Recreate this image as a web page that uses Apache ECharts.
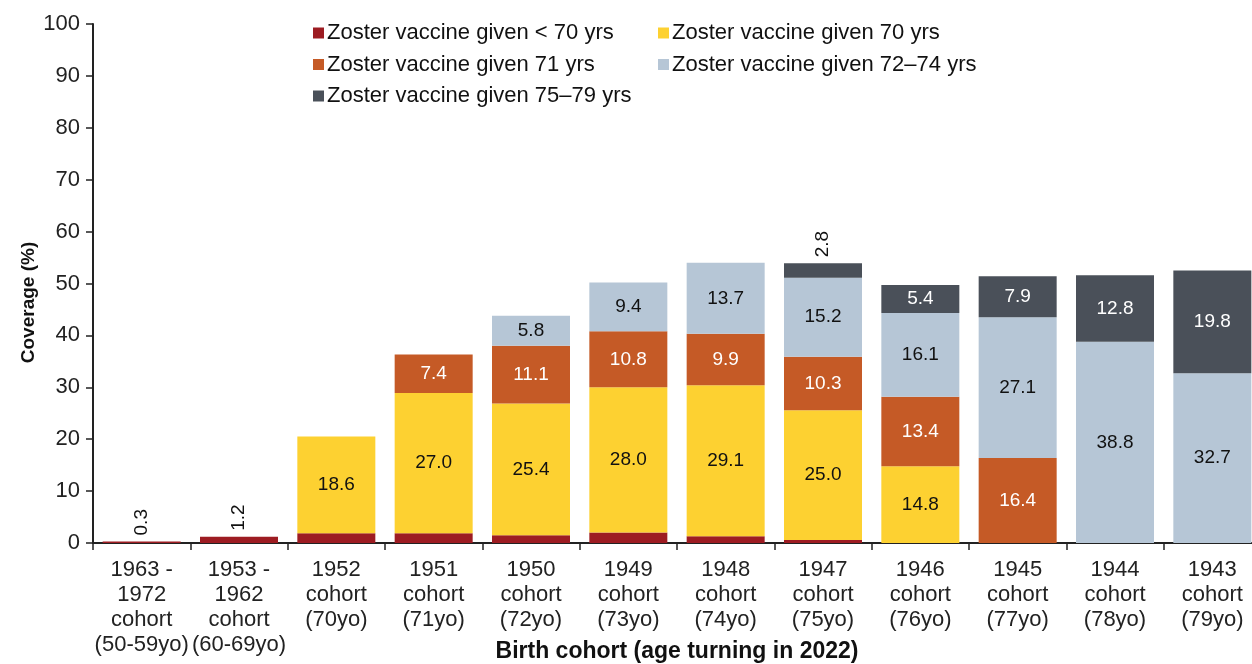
<!DOCTYPE html>
<html>
<head>
<meta charset="utf-8">
<script src="https://cdn.jsdelivr.net/npm/echarts@6/dist/echarts.min.js"></script>
<style>
  html, body { margin: 0; padding: 0; background: #fff; }
  #chart { width: 1252px; height: 664px; }
</style>
</head>
<body>
<div id="chart"></div>
<script>
// 出生队列
const cohorts = [
  '1963 -\n1972\ncohort\n(50-59yo)', '1953 -\n1962\ncohort\n(60-69yo)',
  '1952\ncohort\n(70yo)', '1951\ncohort\n(71yo)', '1950\ncohort\n(72yo)',
  '1949\ncohort\n(73yo)', '1948\ncohort\n(74yo)', '1947\ncohort\n(75yo)',
  '1946\ncohort\n(76yo)', '1945\ncohort\n(77yo)', '1944\ncohort\n(78yo)',
  '1943\ncohort\n(79yo)'
];
const seriesNames = [
  'Zoster vaccine given < 70 yrs',
  'Zoster vaccine given 70 yrs',
  'Zoster vaccine given 71 yrs',
  'Zoster vaccine given 72–74 yrs',
  'Zoster vaccine given 75–79 yrs'
];
// 各年龄接种覆盖率 (%)
const under70 = [0.3, 1.2, 1.9, 1.9, 1.5, 2.0, 1.3, 0.6, 0, 0, 0, 0];
const at70 = [0, 0, 18.6, 27.0, 25.4, 28.0, 29.1, 25.0, 14.8, 0, 0, 0];
const at71 = [0, 0, 0, 7.4, 11.1, 10.8, 9.9, 10.3, 13.4, 16.4, 0, 0];
const at72to74 = [0, 0, 0, 0, 5.8, 9.4, 13.7, 15.2, 16.1, 27.1, 38.8, 32.7];
const at75to79 = [0, 0, 0, 0, 0, 0, 0, 2.8, 5.4, 7.9, 12.8, 19.8];
const yTicks = [0, 10, 20, 30, 40, 50, 60, 70, 80, 90, 100];

const colors = ['#9d1c22', '#fdd131', '#c55a26', '#b6c6d6', '#4a5059'];
const FONT = '"Liberation Sans", Arial, sans-serif';

const topLabel = {
  show: true, position: 'top', rotate: 90, align: 'left', verticalAlign: 'middle',
  distance: 6, color: '#111', fontSize: 19, fontFamily: FONT,
  formatter: p => p.value.toFixed(1)
};
const inLabel = (color) => ({
  show: true, position: 'inside', color, fontSize: 19, fontFamily: FONT,
  formatter: p => p.value ? p.value.toFixed(1) : ''
});

// 小于70岁：只有前两个队列显示外部标签
const under70Data = under70.map((v, i) => i < 2
  ? { value: v, label: topLabel }
  : { value: v, label: { show: false } });
// 75-79岁：1947 太矮，标签放在上方
const at75Data = at75to79.map((v, i) => v === 2.8
  ? { value: v, label: topLabel }
  : v);

const datasets = [under70Data, at70, at71, at72to74, at75Data];
const labelColors = ['#fff', '#111', '#fff', '#111', '#fff'];

const legendBase = {
  top: 22, orient: 'vertical', itemGap: 9.5, padding: 0,
  itemWidth: 11, itemHeight: 11, icon: 'rect',
  textStyle: { fontSize: 22, lineHeight: 22, color: '#111', fontFamily: FONT, padding: [0, 0, 0, -2] }
};

const chart = echarts.init(document.getElementById('chart'));
chart.setOption({
  animation: false,
  backgroundColor: '#fff',
  textStyle: { fontFamily: FONT },
  grid: { left: 93, right: -9, top: 24, bottom: 121, containLabel: false, outerBoundsMode: 'none' },
  legend: [
    Object.assign({ left: 313, data: [seriesNames[0], seriesNames[2], seriesNames[4]] }, legendBase),
    Object.assign({ left: 658, data: [seriesNames[1], seriesNames[3]] }, legendBase)
  ],
  xAxis: {
    type: 'category',
    data: cohorts,
    name: 'Birth cohort (age turning in 2022)',
    nameLocation: 'middle',
    nameGap: 97,
    nameMoveOverlap: false,
    nameTextStyle: { fontSize: 23, fontWeight: 'bold', color: '#111', fontFamily: FONT },
    axisLine: { lineStyle: { color: '#222', width: 2 } },
    axisTick: { show: true, length: 7, lineStyle: { color: '#222', width: 1.5 } },
    axisLabel: { fontSize: 22, color: '#222', lineHeight: 25, margin: 14, interval: 0, fontFamily: FONT }
  },
  yAxis: {
    type: 'value',
    min: 0, max: 100, interval: 10,
    name: 'Coverage (%)',
    nameLocation: 'middle',
    nameGap: 55,
    nameMoveOverlap: false,
    nameTextStyle: {
      fontSize: 19, fontWeight: 'bold', color: '#111', fontFamily: FONT,
      padding: [0, 38, 0, 0]
    },
    axisLine: { show: true, lineStyle: { color: '#222', width: 2 } },
    axisTick: { show: true, length: 7, lineStyle: { color: '#222', width: 1.5 } },
    axisLabel: {
      fontSize: 22, color: '#222', margin: 13, fontFamily: FONT,
      formatter: v => yTicks.includes(v) ? String(v) : ''
    },
    splitLine: { show: false }
  },
  series: seriesNames.map((name, i) => ({
    name,
    type: 'bar',
    stack: 'total',
    barWidth: 78,
    data: datasets[i],
    itemStyle: { color: colors[i] },
    label: inLabel(labelColors[i])
  }))
});
</script>
</body>
</html>
